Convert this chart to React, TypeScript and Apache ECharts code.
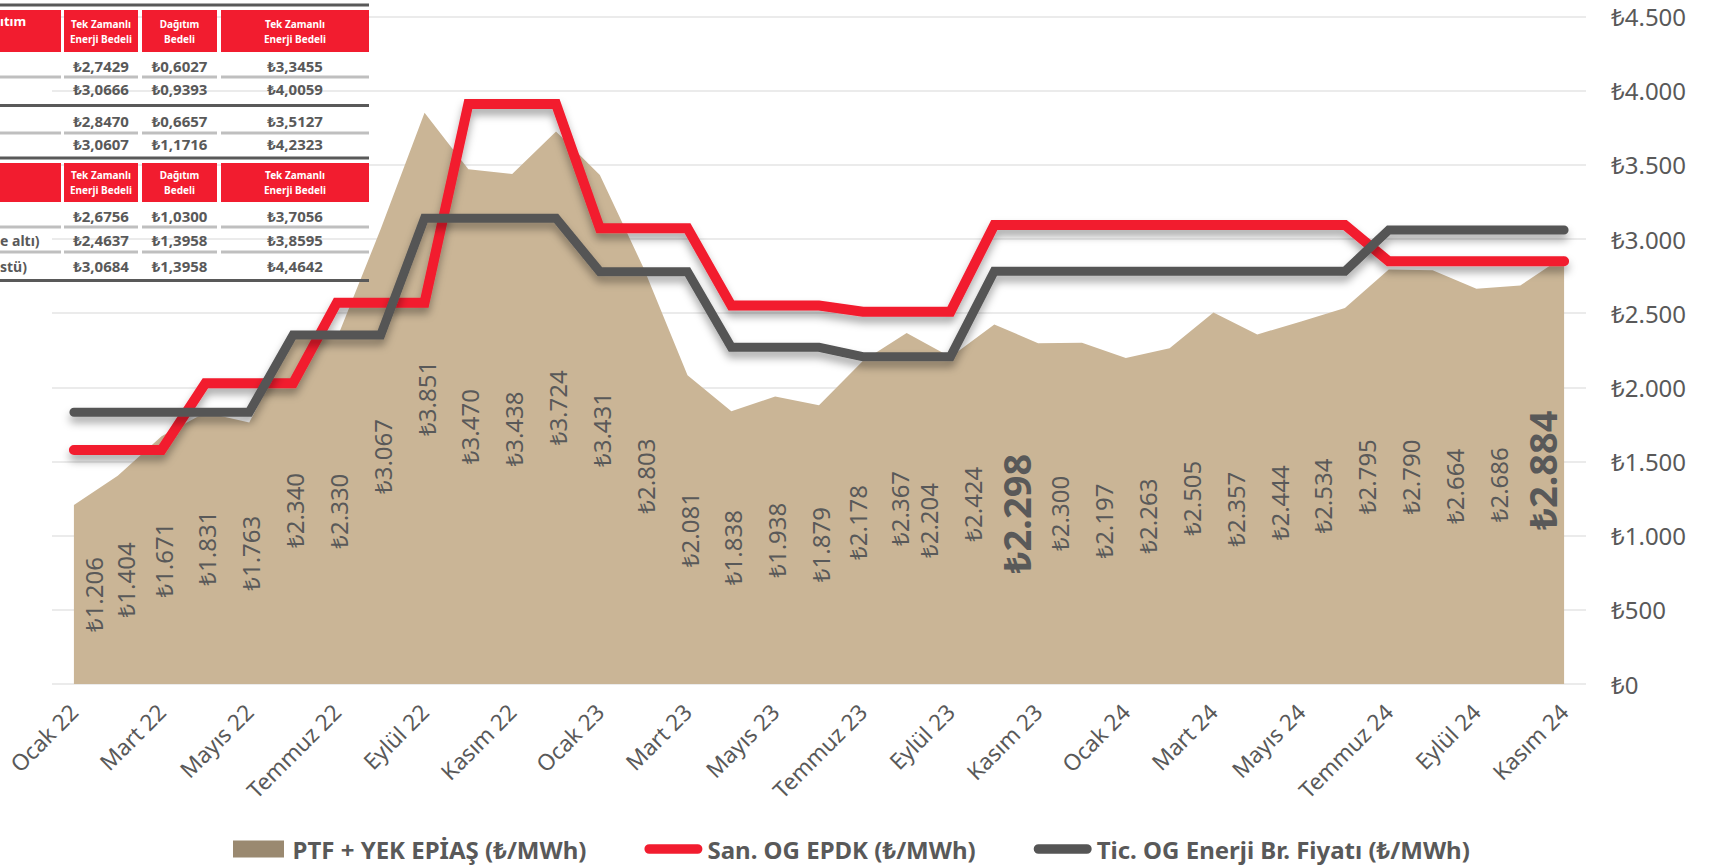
import React, { useEffect, useRef } from 'react';
import * as echarts from 'echarts';

const categories = [
  'Ocak 22', 'Şubat 22', 'Mart 22', 'Nisan 22', 'Mayıs 22', 'Haziran 22', 'Temmuz 22', 'Ağustos 22', 'Eylül 22', 'Ekim 22', 'Kasım 22', 'Aralık 22',
  'Ocak 23', 'Şubat 23', 'Mart 23', 'Nisan 23', 'Mayıs 23', 'Haziran 23', 'Temmuz 23', 'Ağustos 23', 'Eylül 23', 'Ekim 23', 'Kasım 23', 'Aralık 23',
  'Ocak 24', 'Şubat 24', 'Mart 24', 'Nisan 24', 'Mayıs 24', 'Haziran 24', 'Temmuz 24', 'Ağustos 24', 'Eylül 24', 'Ekim 24', 'Kasım 24',
];

const ptfYek = [
  1206, 1404, 1671, 1831, 1763, 2340, 2330, 3067, 3851, 3470, 3438, 3724,
  3431, 2803, 2081, 1838, 1938, 1879, 2178, 2367, 2204, 2424, 2298, 2300,
  2197, 2263, 2505, 2357, 2444, 2534, 2795, 2790, 2664, 2686, 2884,
];

const sanOgEpdk = [
  1578, 1578, 1578, 2027, 2027, 2027, 2571, 2571, 2571, 3910, 3910, 3910,
  3072, 3072, 3072, 2551, 2551, 2551, 2510, 2510, 2510, 3095, 3095, 3095,
  3095, 3095, 3095, 3095, 3095, 3095, 2850, 2850, 2850, 2850, 2850,
];

const ticOgEnerji = [
  1832, 1832, 1832, 1832, 1832, 2353, 2353, 2353, 3140, 3140, 3140, 3140,
  2780, 2780, 2780, 2270, 2270, 2270, 2207, 2207, 2207, 2783, 2783, 2783,
  2783, 2783, 2783, 2783, 2783, 2783, 3061, 3061, 3061, 3061, 3061,
];

const highlightIdx = [22, 34];

const seriesNames = ['PTF + YEK EPİAŞ (₺/MWh)', 'San. OG EPDK (₺/MWh)', 'Tic. OG Enerji Br. Fiyatı (₺/MWh)'];

const yMin = 0;
const yMax = 4500;
const yInterval = 500;

// overlay table (cropped picture of a tariff table)
const tableHeaderStub = 'ıtım';
const tableHeaders = ['Tek Zamanlı\nEnerji Bedeli', 'Dağıtım\nBedeli', 'Tek Zamanlı\nEnerji Bedeli'];
const tableStubs = ['', '', '', '', '', 'e altı)', 'stü)'];
const tableValues = [
  ['₺2,7429', '₺0,6027', '₺3,3455'],
  ['₺3,0666', '₺0,9393', '₺4,0059'],
  ['₺2,8470', '₺0,6657', '₺3,5127'],
  ['₺3,0607', '₺1,1716', '₺4,2323'],
  ['₺2,6756', '₺1,0300', '₺3,7056'],
  ['₺2,4637', '₺1,3958', '₺3,8595'],
  ['₺3,0684', '₺1,3958', '₺4,4642'],
];

const fmt = (v: number) => '₺' + String(Math.round(v)).replace(/\B(?=(\d{3})+(?!\d))/g, '.');

const FONT = '"Noto Sans", "Open Sans", sans-serif';
const RED = '#F21C2F';
const GRAY = '#555555';
const TXT = '#595959';

function buildTable() {
  const els: any[] = [];
  const cols = [
    [0, 61],
    [64, 138],
    [142, 217],
    [221, 369],
  ];
  const headerBands = [
    [10, 52],
    [163, 202],
  ];
  const rowY = [66, 89, 121, 144, 216, 240, 266];
  const lightSep = [77, 133, 227, 252];
  const darkSep = [5, 105.5, 158, 280.5];
  const z = 100;
  headerBands.forEach(([y0, y1], hi) => {
    cols.forEach(([x0, x1], ci) => {
      els.push({ type: 'rect', z, shape: { x: x0, y: y0, width: x1 - x0, height: y1 - y0 }, style: { fill: RED } });
      if (ci > 0) {
        els.push({
          type: 'text', z: z + 1, x: (x0 + x1) / 2, y: (y0 + y1) / 2,
          style: {
            text: tableHeaders[ci - 1], fill: '#ffffff', font: `bold 10px ${FONT}`, lineHeight: 15,
            align: 'center', verticalAlign: 'middle', textAlign: 'center', textVerticalAlign: 'middle',
          },
        });
      } else if (hi === 0) {
        els.push({
          type: 'text', z: z + 1, x: 0, y: 21,
          style: { text: tableHeaderStub, fill: '#ffffff', font: `bold 13px ${FONT}`, align: 'left', verticalAlign: 'middle', textAlign: 'left', textVerticalAlign: 'middle' },
        });
      }
    });
  });
  lightSep.forEach((y) => {
    cols.forEach(([x0, x1]) => {
      els.push({ type: 'rect', z, shape: { x: x0, y: y - 1.5, width: x1 - x0, height: 3 }, style: { fill: '#BFBFBF' } });
    });
  });
  darkSep.forEach((y) => {
    els.push({ type: 'rect', z, shape: { x: 0, y: y - 1.5, width: 369, height: 3 }, style: { fill: TXT } });
  });
  tableValues.forEach((row, ri) => {
    row.forEach((t, ci) => {
      const [x0, x1] = cols[ci + 1];
      els.push({
        type: 'text', z: z + 1, x: (x0 + x1) / 2, y: rowY[ri],
        style: { text: t, fill: TXT, font: `bold 15px ${FONT}`, align: 'center', verticalAlign: 'middle', textAlign: 'center', textVerticalAlign: 'middle' },
      });
    });
    if (tableStubs[ri]) {
      els.push({
        type: 'text', z: z + 1, x: 0, y: rowY[ri],
        style: { text: tableStubs[ri], fill: TXT, font: `bold 14px ${FONT}`, align: 'left', verticalAlign: 'middle', textAlign: 'left', textVerticalAlign: 'middle' },
      });
    }
  });
  return els;
}

// horizontal nudge of data labels, as placed in the original chart
function labelShift(i: number) {
  if (i === 0) return 20;
  if (i === 1) return 8;
  if (i <= 17) return 1.5;
  if (i === 18) return -5;
  if (i === 19) return -7;
  return -22;
}

const lineIcon = 'path://M5,0 L55,0 A5,5 0 0 1 55,10 L5,10 A5,5 0 0 1 5,0 Z';
const rectIcon = 'path://M0,0 L51,0 L51,17 L0,17 Z';

export default function App() {
  const ref = useRef<HTMLDivElement>(null);
  useEffect(() => {
    if (!ref.current) return;
    const chart = echarts.init(ref.current, undefined, { renderer: 'svg' });
    const option: any = {
      animation: false,
      backgroundColor: '#ffffff',
      textStyle: { fontFamily: FONT },
      grid: { left: 52, right: 141, top: 16.5, bottom: 183, outerBoundsMode: 'none' },
      xAxis: {
        type: 'category', data: categories, boundaryGap: true,
        axisLine: { show: false }, axisTick: { show: false },
        axisLabel: { interval: 1, rotate: 45, fontSize: 22.5, color: TXT, margin: 24, fontFamily: FONT },
      },
      yAxis: {
        type: 'value', position: 'right', min: yMin, max: yMax, interval: yInterval,
        axisLine: { show: false }, axisTick: { show: false },
        splitLine: { lineStyle: { color: '#EBEBEB', width: 2 } },
        axisLabel: { formatter: (v: number) => fmt(v), fontSize: 24, color: TXT, margin: 25, align: 'left', fontFamily: FONT },
      },
      legend: {
        left: 233, top: 837, itemGap: 58, itemWidth: 58, itemHeight: 17, padding: 0,
        itemStyle: { borderWidth: 0 },
        textStyle: { fontSize: 24, fontWeight: 'bold', color: TXT, fontFamily: FONT },
        data: [
          { name: seriesNames[0], icon: rectIcon, itemStyle: { color: '#9A8970' } },
          { name: seriesNames[1], icon: lineIcon },
          { name: seriesNames[2], icon: lineIcon },
        ],
      },
      series: [
        {
          name: seriesNames[0], type: 'line', data: ptfYek,
          symbol: 'none', color: '#9A8970', z: 1,
          lineStyle: { width: 0 },
          areaStyle: { color: '#CAB596', opacity: 1 },
          silent: true,
        },
        {
          name: seriesNames[1], type: 'line', data: sanOgEpdk,
          symbol: 'none', color: RED, z: 3,
          lineStyle: { width: 10, cap: 'round', join: 'miter', color: RED, shadowColor: 'rgba(0,0,0,0.35)', shadowBlur: 8, shadowOffsetY: 6 },
          silent: true,
        },
        {
          name: seriesNames[2], type: 'line', data: ticOgEnerji,
          symbol: 'none', color: GRAY, z: 4,
          lineStyle: { width: 9, cap: 'round', join: 'miter', color: GRAY, shadowColor: 'rgba(0,0,0,0.35)', shadowBlur: 8, shadowOffsetY: 6 },
          silent: true,
        },
        {
          name: 'etiketler', type: 'bar', barWidth: 4, z: 5, silent: true,
          itemStyle: { color: 'rgba(0,0,0,0)' },
          label: {
            show: true, position: 'inside', rotate: 90, fontSize: 24, color: TXT, fontFamily: FONT,
            formatter: (p: any) => fmt(p.value),
          },
          data: ptfYek.map((v, i) => {
            const hi = highlightIdx.includes(i);
            return {
              value: v,
              label: hi
                ? { fontSize: 38, fontWeight: 'bold', color: TXT, offset: [0, labelShift(i)] }
                : { offset: [0, labelShift(i)] },
            };
          }),
        },
      ],
      graphic: buildTable(),
    };
    chart.setOption(option);
    return () => chart.dispose();
  }, []);
  return <div ref={ref} style={{ position: 'fixed', left: 0, top: 0, width: 1727, height: 867, background: '#fff' }} />;
}
